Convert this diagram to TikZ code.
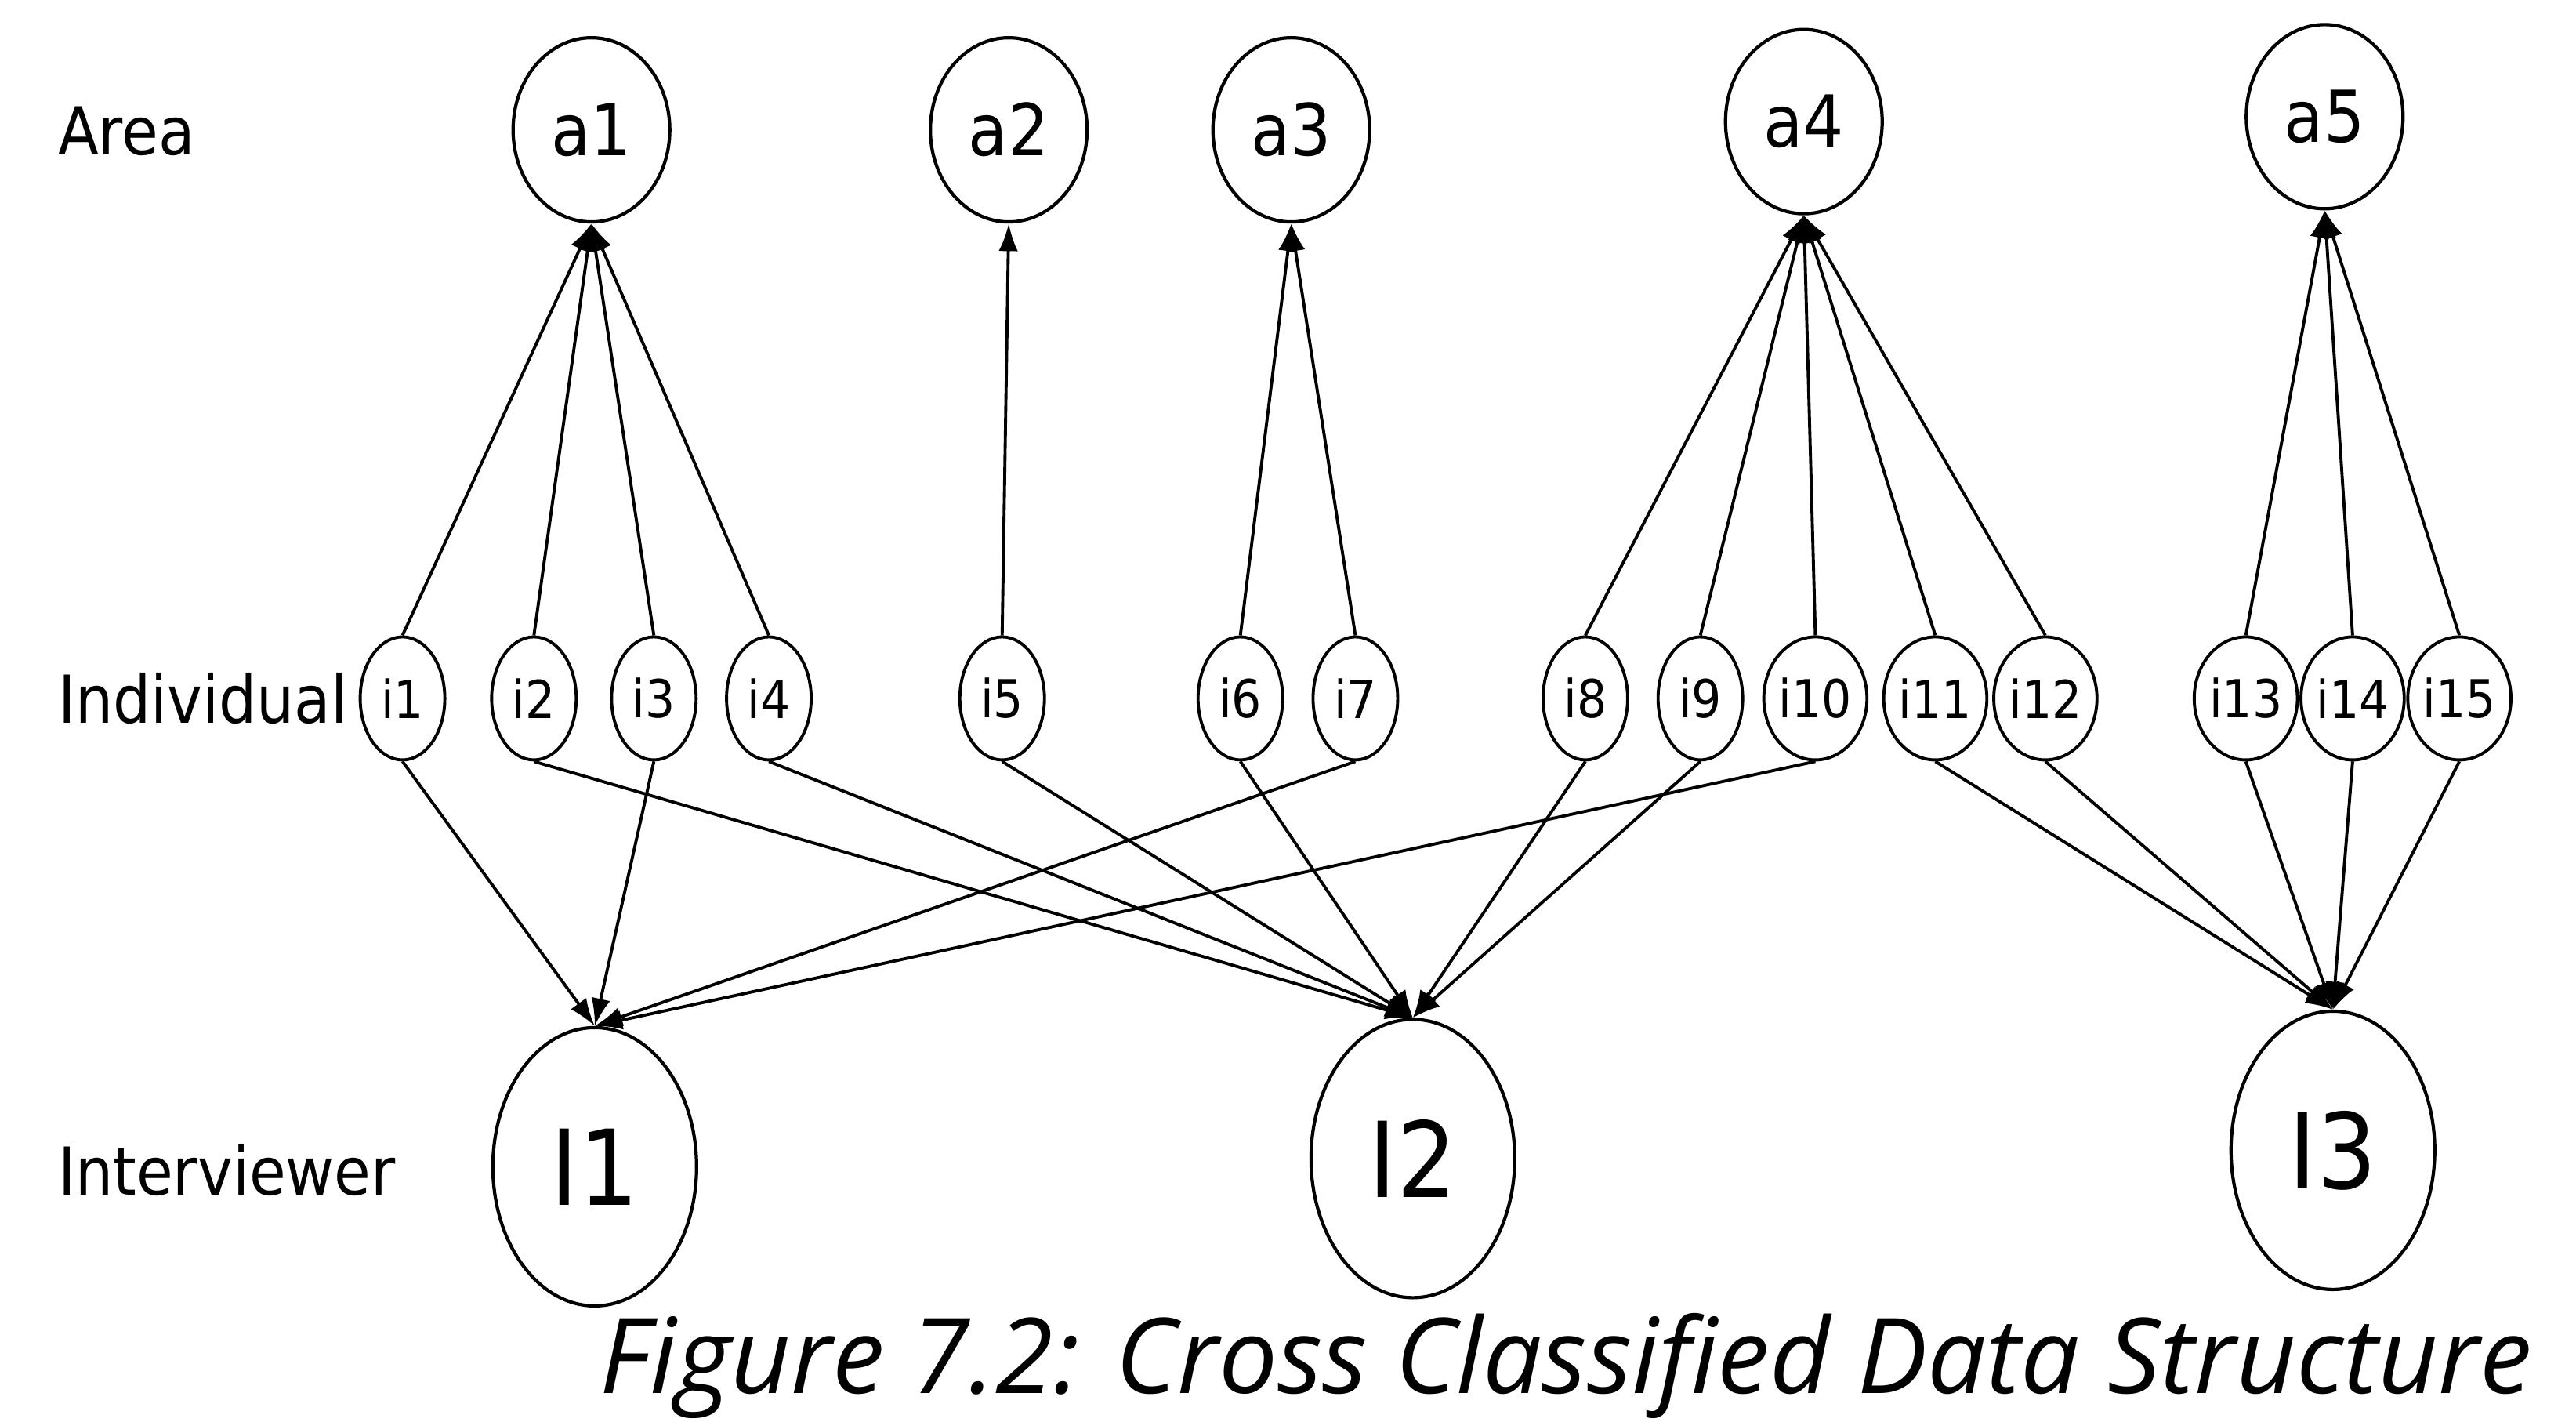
\documentclass[tikz,border=0pt]{standalone}
\usepackage{fontspec}
\setmainfont{DejaVu Sans Condensed}
\newfontfamily\capfont{Open Sans}
\usetikzlibrary{shapes.geometric,arrows.meta}
\tikzstyle{vertexa}=[draw,ellipse,line width=1.2pt,minimum width=2.0cm,minimum height=2.35cm,inner sep=0pt,font=\fontsize{26}{26}\selectfont]
\tikzstyle{vertexi}=[draw,ellipse,line width=1.1pt,minimum width=1.08cm,minimum height=1.57cm,inner sep=0pt,font=\fontsize{19}{19}\selectfont]
\tikzstyle{vertexw}=[draw,ellipse,line width=1.2pt,minimum width=2.6cm,minimum height=3.55cm,inner sep=0pt,font=\fontsize{38}{38}\selectfont]
\tikzstyle{levelname}=[anchor=west,inner sep=0pt,font=\fontsize{24}{24}\selectfont]
\tikzstyle{link}=[-{Latex[length=10pt,width=7pt]},line width=1.1pt]

\begin{document}
\begin{tikzpicture}[x=0.020963cm,y=-0.020963cm]
    \useasboundingbox (0,0) rectangle (1568,865);
    % area level
    \node[vertexa] (a1) at (360,79)  {a1};
    \node[vertexa] (a2) at (614,79)  {a2};
    \node[vertexa] (a3) at (786,79)  {a3};
    \node[vertexa] (a4) at (1098,74) {a4};
    \node[vertexa] (a5) at (1415,71) {a5};
    % individual level
    \node[vertexi] (i1)  at (245,425)  {i1};
    \node[vertexi] (i2)  at (325,425)  {i2};
    \node[vertexi] (i3)  at (398,425)  {i3};
    \node[vertexi] (i4)  at (468,425)  {i4};
    \node[vertexi] (i5)  at (610,425)  {i5};
    \node[vertexi] (i6)  at (755,425)  {i6};
    \node[vertexi] (i7)  at (825,425)  {i7};
    \node[vertexi] (i8)  at (965,425)  {i8};
    \node[vertexi] (i9)  at (1035,425) {i9};
    \node[vertexi] (i10) at (1105,425) {i10};
    \node[vertexi] (i11) at (1178,425) {i11};
    \node[vertexi] (i12) at (1245,425) {i12};
    \node[vertexi] (i13) at (1367,425) {i13};
    \node[vertexi] (i14) at (1432,425) {i14};
    \node[vertexi] (i15) at (1497,425) {i15};
    % interviewer level
    \node[vertexw] (w1) at (362,710)  {I1};
    \node[vertexw] (w2) at (860,705)  {I2};
    \node[vertexw] (w3) at (1420,700) {I3};
    % row names
    \node[levelname] (lA) at (35,80)  {Area};
    \node[levelname] (lI) at (35,425) {Individual};
    \node[levelname] (lW) at (35,712) {Interviewer};
    \node[anchor=base west,inner sep=0pt,font=\capfont\itshape\fontsize{38}{38}\selectfont] (cap) at (365,848) {Figure 7.2: Cross Classified Data Structure};

    \foreach \from/\to in {i1/a1,i2/a1,i3/a1,i4/a1,i5/a2,i6/a3,i7/a3,i8/a4,i9/a4,i10/a4,i11/a4,i12/a4,i13/a5,i14/a5,i15/a5}
    \draw[link] (\from.north) -- (\to.south);
    \foreach \from/\to in {i1/w1,i3/w1,i7/w1,i10/w1,i2/w2,i4/w2,i5/w2,i6/w2,i8/w2,i9/w2,i11/w3,i12/w3,i13/w3,i14/w3,i15/w3}
    \draw[link] (\from.south) -- (\to.north);
\end{tikzpicture}
\end{document}
